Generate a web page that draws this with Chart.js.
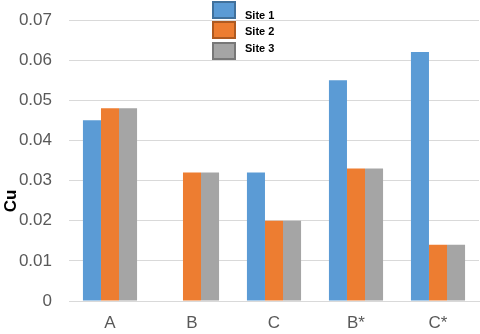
<!DOCTYPE html>
<html><head><meta charset="utf-8">
<script src="https://cdn.jsdelivr.net/npm/chart.js@4/dist/chart.umd.min.js"></script>
<style>html,body{margin:0;padding:0;background:#fff}#wrap{width:480px;height:334px}</style>
</head><body><div id="wrap"><canvas id="c" width="480" height="334"></canvas></div>
<script>
const categories = ["A", "B", "C", "B*", "C*"];
const site1 = [0.045, null, 0.032, 0.055, 0.062];
const site2 = [0.048, 0.032, 0.020, 0.033, 0.014];
const site3 = [0.048, 0.032, 0.020, 0.033, 0.014];
const seriesNames = ["Site 1", "Site 2", "Site 3"];
const yTitle = "Cu";
const fills = ["#5B9BD5", "#ED7D31", "#A5A5A5"];
const borders = ["#41719C", "#AE5A21", "#787878"];
const FONT = "'Liberation Sans', Arial, sans-serif";

const extrasPlugin = {
  id: 'extras',
  afterDraw(chart) {
    const ctx = chart.ctx;
    const boxes = [[213, 2], [213, 22], [213, 43]];
    const textY = [16, 32, 49];
    ctx.save();
    seriesNames.forEach((n, i) => {
      ctx.fillStyle = fills[i];
      ctx.strokeStyle = borders[i];
      ctx.lineWidth = 2;
      ctx.fillRect(boxes[i][0], boxes[i][1], 22, 16);
      ctx.strokeRect(boxes[i][0], boxes[i][1], 22, 16);
      ctx.fillStyle = "#000";
      ctx.font = "bold 11px " + FONT;
      ctx.textBaseline = "middle";
      ctx.textAlign = "left";
      ctx.fillText(n, 245, textY[i]);
    });
    // y axis title
    ctx.translate(11, 201);
    ctx.rotate(-Math.PI / 2);
    ctx.fillStyle = "#000";
    ctx.font = "bold 17px " + FONT;
    ctx.textAlign = "center";
    ctx.textBaseline = "middle";
    ctx.fillText(yTitle, 0, 0);
    ctx.restore();
  }
};

new Chart(document.getElementById('c'), {
  type: 'bar',
  data: {
    labels: categories,
    datasets: [site1, site2, site3].map((d, i) => ({
      label: seriesNames[i], data: d, backgroundColor: fills[i],
      borderWidth: 0, categoryPercentage: 0.66, barPercentage: 1.0
    }))
  },
  options: {
    responsive: false, animation: false,
    layout: { padding: { top: 20, right: 1, left: 0, bottom: 0 } },
    plugins: { legend: { display: false }, tooltip: { enabled: false } },
    scales: {
      x: {
        afterFit(s) { s.height = 33; },
        grid: { display: false, drawTicks: false },
        border: { color: "#d9d9d9", width: 1 },
        ticks: { color: "#595959", font: { size: 17, family: FONT }, padding: 12 }
      },
      y: {
        min: 0, max: 0.07,
        afterFit(s) { s.width = 69; s.paddingTop = 0; s.paddingBottom = 0; },
        border: { display: false },
        grid: { color: "#d9d9d9", drawTicks: false },
        ticks: {
          stepSize: 0.01, padding: 17, color: "#595959",
          font: { size: 17, family: FONT, lineHeight: 0.5 },
          callback: v => v === 0 ? "0" : v.toFixed(2)
        }
      }
    }
  },
  plugins: [extrasPlugin]
});
</script></body></html>
